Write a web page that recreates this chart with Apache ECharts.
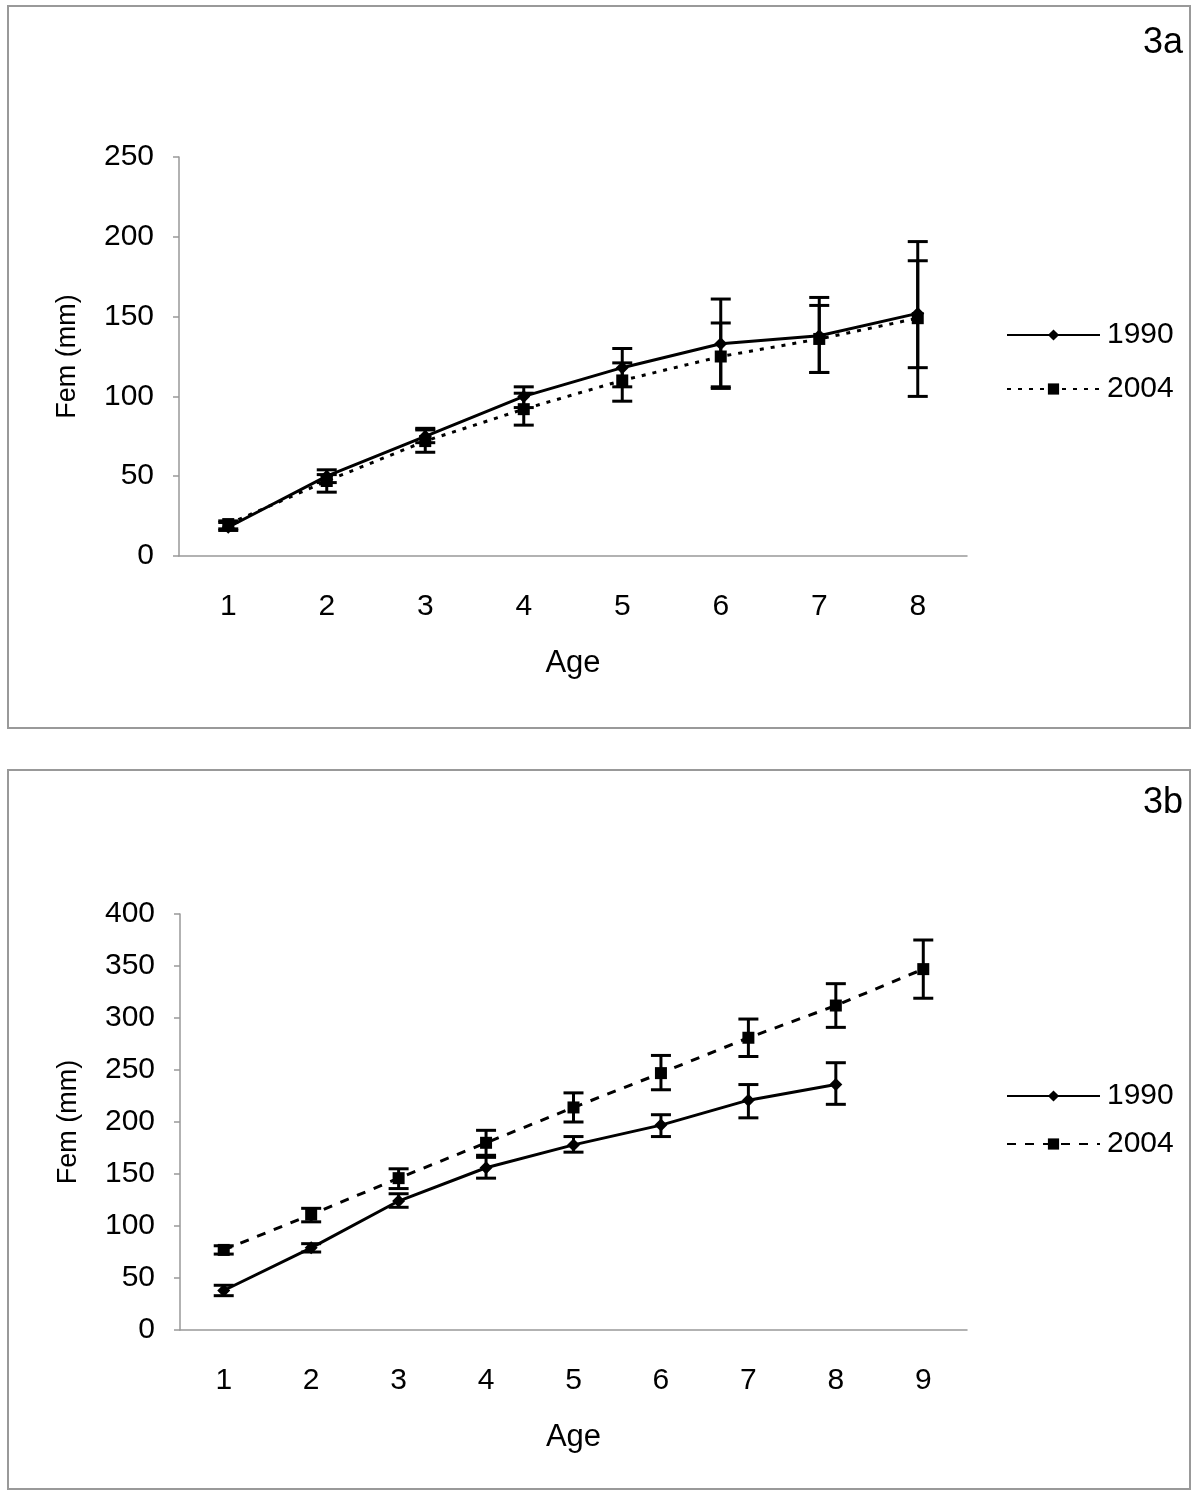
<!DOCTYPE html>
<html>
<head>
<meta charset="utf-8">
<script src="https://cdn.jsdelivr.net/npm/echarts@6/dist/echarts.min.js"></script>
<style>
  body { margin: 0; background: #fff; }
  .panel { position: absolute; left: 7px; width: 1184px; border: 2px solid #999; box-sizing: border-box; background: #fff; }
</style>
</head>
<body>
<div id="chart3a" class="panel" style="top:5px;height:724px;"></div>
<div id="chart3b" class="panel" style="top:769px;height:721px;"></div>
<script>
// panel 3a
var agesA = ['1', '2', '3', '4', '5', '6', '7', '8']
var fem1990A = [18, 50, 75, 100, 118, 133, 138, 152]
var fem1990A_lo = [16, 46, 71, 93, 106, 106, 115, 100]
var fem1990A_hi = [21, 54, 79, 106, 130, 161, 162, 197]
var fem2004A = [20, 47, 72, 92, 110, 125, 136, 149]
var fem2004A_lo = [17, 40, 65, 82, 97, 105, 115, 118]
var fem2004A_hi = [22, 51, 80, 102, 121, 146, 157, 185]
var ticksA = [0, 50, 100, 150, 200, 250]

// panel 3b
var agesB = ['1', '2', '3', '4', '5', '6', '7', '8', '9']
var fem1990B = [38, 79, 124, 156, 178, 197, 221, 236]
var fem1990B_lo = [33, 75, 118, 146, 171, 186, 204, 217]
var fem1990B_hi = [43, 83, 131, 166, 186, 207, 236, 257]
var fem2004B = [77, 111, 146, 180, 214, 247, 281, 312, 347]
var fem2004B_lo = [73, 104, 136, 168, 200, 231, 263, 291, 319]
var fem2004B_hi = [81, 117, 155, 192, 228, 264, 299, 333, 375]
var ticksB = [0, 50, 100, 150, 200, 250, 300, 350, 400]

var FONT = 'Liberation Sans, Arial, sans-serif'

function errRender(params, api) {
  var lo = api.coord([api.value(0), api.value(1)])
  var hi = api.coord([api.value(0), api.value(2)])
  var w = 10
  var st = { stroke: '#000', lineWidth: 3 }
  return {
    type: 'group',
    children: [
      { type: 'line', shape: { x1: lo[0], y1: lo[1], x2: hi[0], y2: hi[1] }, style: st },
      { type: 'line', shape: { x1: lo[0] - w, y1: lo[1], x2: lo[0] + w, y2: lo[1] }, style: st },
      { type: 'line', shape: { x1: hi[0] - w, y1: hi[1], x2: hi[0] + w, y2: hi[1] }, style: st }
    ]
  }
}

function errData(lo, hi) {
  var out = []
  for (var i = 0; i < lo.length; i++) out.push([i, lo[i], hi[i]])
  return out
}

function makeOption(cfg) {
  return {
    animation: false,
    textStyle: { fontFamily: FONT },
    title: {
      text: cfg.label, right: 6, top: cfg.labelTop, padding: 0,
      textStyle: { fontFamily: FONT, fontSize: 36, fontWeight: 'normal', color: '#000' }
    },
    legend: {
      data: ['1990', '2004'],
      orient: 'vertical',
      left: 997, top: cfg.legendTop, padding: 0,
      itemWidth: 93, itemHeight: 14, itemGap: cfg.legendGap,
      textStyle: { fontFamily: FONT, fontSize: 30, color: '#000', padding: [0, 0, 0, 2] }
    },
    grid: { left: cfg.grid[0], top: cfg.grid[1], width: cfg.grid[2], height: cfg.grid[3] },
    xAxis: {
      type: 'category',
      data: cfg.ages,
      name: 'Age', nameLocation: 'middle', nameGap: 92,
      nameTextStyle: { fontFamily: FONT, fontSize: 31, color: '#000' },
      axisLine: { lineStyle: { color: '#999', width: 1.5 } },
      axisTick: { length: 9, lineStyle: { color: '#999', width: 1.5 } },
      axisLabel: { fontFamily: FONT, fontSize: 30, color: '#000', margin: 36 },
      splitLine: { show: false }
    },
    yAxis: {
      type: 'value',
      min: 0, max: cfg.ticks[cfg.ticks.length - 1], interval: 50,
      name: 'Fem (mm)', nameLocation: 'middle', nameGap: 98,
      nameTextStyle: { fontFamily: FONT, fontSize: 27, color: '#000' },
      axisLine: { show: true, lineStyle: { color: '#999', width: 1.5 } },
      axisTick: { show: true, length: 6, lineStyle: { color: '#999', width: 1.5 } },
      axisLabel: { fontFamily: FONT, fontSize: 30, color: '#000', margin: 25 },
      splitLine: { show: false }
    },
    series: [
      {
        name: '1990', type: 'line', data: cfg.s1990,
        symbol: 'diamond', symbolSize: 13,
        itemStyle: { color: '#000' },
        lineStyle: { color: '#000', width: 3 },
        z: 3
      },
      {
        name: '2004', type: 'line', data: cfg.s2004,
        symbol: 'rect', symbolSize: 12,
        itemStyle: { color: '#000' },
        lineStyle: { color: '#000', width: 3, type: cfg.dash },
        z: 3
      },
      {
        name: 'err1990', type: 'custom', renderItem: errRender,
        data: errData(cfg.lo1990, cfg.hi1990), encode: { x: 0, y: [1, 2] }, z: 4
      },
      {
        name: 'err2004', type: 'custom', renderItem: errRender,
        data: errData(cfg.lo2004, cfg.hi2004), encode: { x: 0, y: [1, 2] }, z: 4
      }
    ]
  }
}

var chartA = echarts.init(document.getElementById('chart3a'))
chartA.setOption(makeOption({
  label: '3a', labelTop: 18, ages: agesA, ticks: ticksA,
  grid: [170, 150, 788, 399],
  legendTop: 313, legendGap: 24,
  s1990: fem1990A, s2004: fem2004A,
  lo1990: fem1990A_lo, hi1990: fem1990A_hi,
  lo2004: fem2004A_lo, hi2004: fem2004A_hi,
  dash: [4, 7]
}))

var chartB = echarts.init(document.getElementById('chart3b'))
chartB.setOption(makeOption({
  label: '3b', labelTop: 14, ages: agesB, ticks: ticksB,
  grid: [171, 143, 787, 416],
  legendTop: 310, legendGap: 18,
  s1990: fem1990B, s2004: fem2004B,
  lo1990: fem1990B_lo, hi1990: fem1990B_hi,
  lo2004: fem2004B_lo, hi2004: fem2004B_hi,
  dash: [9, 9]
}))
</script>
</body>
</html>
